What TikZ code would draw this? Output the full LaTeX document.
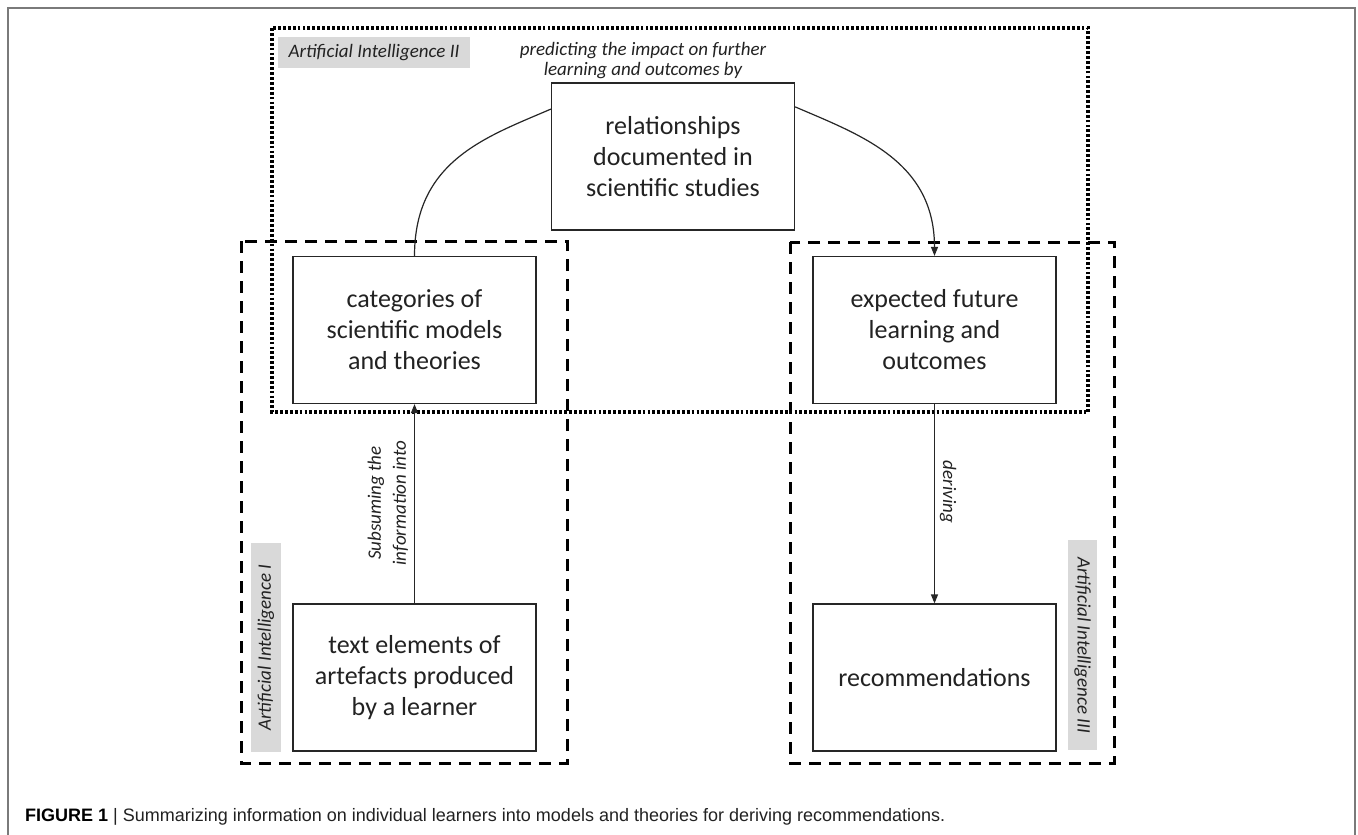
\documentclass[tikz,border=0pt]{standalone}
\usepackage{fontspec}
\setmainfont{Carlito}
\newfontfamily\capfont{Liberation Sans}
\usetikzlibrary{arrows.meta,calc}

\definecolor{labelgray}{HTML}{D9D9D9}
\definecolor{framegray}{HTML}{7A7A7A}
\definecolor{inkgray}{HTML}{222222}

\tikzset{
  box/.style={draw=black!85, line width=1.2pt, fill=white, minimum width=243pt,
    minimum height=147pt, inner sep=0pt, align=center, text=inkgray,
    font=\fontsize{26}{31}\selectfont},
  aigroup/.style={line width=3pt, dash pattern=on 12pt off 8pt},
  aidots/.style={line width=3.1pt, dash pattern=on 2.8pt off 2.1pt},
  ailabel/.style={fill=labelgray, inner sep=0pt, text=inkgray, font=\fontsize{19}{23}\selectfont\itshape},
  flowlabel/.style={inner sep=0pt, align=center, text=inkgray, font=\fontsize{19}{25}\selectfont\itshape},
  link/.style={line width=1.2pt, draw=black!85},
  tip/.style={-{Triangle[length=9pt,width=7pt]}}
}

\begin{document}
\begin{tikzpicture}[x=1pt, y=-1pt]
  \useasboundingbox (0,0) rectangle (1358,835);
  \fill[white] (0,0) rectangle (1358,835);

  % page frame around the figure
  \draw[framegray, line width=1.6pt] (8,845) -- (8,8) -- (1355,8) -- (1355,845);

  % group outlines
  \draw[aidots] (272,28) rectangle (1088,412);
  \draw[aigroup] (241,241) rectangle (567,763);
  \draw[aigroup] (790,242) rectangle (1114,763);

  % group labels
  \node[ailabel, minimum width=192pt, minimum height=31pt] (ai2) at (374,52.5) {Artificial Intelligence II};
  \node[ailabel, rotate=90, minimum width=209pt, minimum height=30pt] (ai1) at (266,647.5) {Artificial Intelligence I};
  \node[ailabel, rotate=-90, minimum width=210pt, minimum height=29pt] (ai3) at (1082.5,645) {Artificial Intelligence III};

  % boxes
  \node[box] (rel) at (673,156.5) {relationships\\documented in\\scientific studies};
  \node[box] (cat) at (414.5,330) {categories of\\scientific models\\and theories};
  \node[box] (txt) at (414.5,677.5) {text elements of\\artefacts produced\\by a learner};
  \node[box] (exp) at (934.5,330) {expected future\\learning and\\outcomes};
  \node[box] (rec) at (934.5,677.5) {recommendations};

  % connector texts
  \node[flowlabel, font=\fontsize{19}{20}\selectfont\itshape] (predict) at (643,61) {predicting the impact on further\\learning and outcomes by};
  \node[flowlabel, rotate=90] (subsume) at (388,503) {Subsuming the\\information into};
  \node[flowlabel, rotate=-90] (derive) at (948,492) {deriving};

  % connectors
  \coordinate (relL) at ($(rel.north west)!0.18!(rel.south west)$);
  \coordinate (relR) at ($(rel.north east)!0.165!(rel.south east)$);
  \draw[link] (cat.north) .. controls +(0,-95) and +(-65,28) .. (relL);
  \draw[link, tip] (relR) .. controls +(65,28) and +(0,-95) .. (exp.north);
  \draw[link, tip] (txt.north) -- (cat.south);
  \draw[link, tip] (exp.south) -- (rec.north);

  % caption
  \node[anchor=base west, inner sep=0pt, text=inkgray, font=\capfont\fontsize{18}{21}\selectfont] (caption) at (25,821)
    {\textbf{\color{black}FIGURE 1} | Summarizing information on individual learners into models and theories for deriving recommendations.};
\end{tikzpicture}
\end{document}
